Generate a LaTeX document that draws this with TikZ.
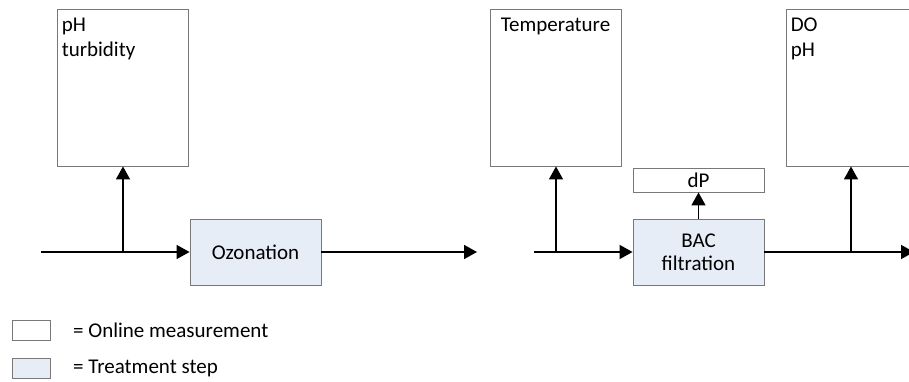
\documentclass[tikz,border=0pt]{standalone}
\usepackage{fontspec}
\setmainfont{Carlito}
\usetikzlibrary{arrows.meta,positioning}
\definecolor{boxgray}{RGB}{120,120,120}
\definecolor{stepfill}{RGB}{230,237,247}
\tikzset{
  measbox/.style={draw=boxgray,line width=0.9pt,fill=white,rectangle,inner sep=0pt},
  stepbox/.style={draw=boxgray,line width=0.9pt,fill=stepfill,rectangle,inner sep=0pt,align=center},
  flow/.style={draw=black,line width=1.6pt,-{Triangle[length=13pt,width=14pt]}},
  txt/.style={inner sep=0pt,align=left,font=\fontsize{21}{25.5}\selectfont},
}
\begin{document}
\begin{tikzpicture}[x=1pt,y=-1pt,font=\fontsize{21}{24}\selectfont]
\useasboundingbox (0,0) rectangle (909,382);
\clip (0,0) rectangle (909,382);
% measurement boxes
\node[measbox,minimum width=131pt,minimum height=157pt] (m1) at (122.5,87.5) {};
\node[measbox,minimum width=131pt,minimum height=157pt] (m2) at (555.5,87.5) {};
\node[measbox,minimum width=160pt,minimum height=157pt] (m3) at (866,87.5) {};
\node[txt,anchor=north west] (t1) at ([xshift=5pt,yshift=-9pt]m1.north west) {pH\\turbidity};
\node[txt,anchor=north] (t2) at ([yshift=-9pt]m2.north) {Temperature};
\node[txt,anchor=north west] (t3) at ([xshift=5pt,yshift=-9pt]m3.north west) {DO\\pH};
\node[measbox,minimum width=131pt,minimum height=24pt] (dp) at (698.5,180) {dP};
% treatment steps
\node[stepbox,minimum width=131pt,minimum height=66pt] (oz) at (255.5,252) {Ozonation};
\node[stepbox,minimum width=131pt,minimum height=66pt] (bac) at (698.5,252) {BAC\\[-1pt]filtration};
% flow coordinates
\coordinate (in0) at (41,252);
\coordinate (j1) at (123,252);
\coordinate (out1) at (477,252);
\coordinate (in2) at (534,252);
\coordinate (j2) at (556,252);
\coordinate (j3) at (851,252);
\coordinate (out3) at (914,252);
% connectors
\draw[flow] (in0) -- (oz.west);
\draw[flow] (j1) -- (j1 |- m1.south);
\draw[flow] (oz.east) -- (out1);
\draw[flow] (in2) -- (bac.west);
\draw[flow] (j2) -- (j2 |- m2.south);
\draw[flow] (bac.north) -- (dp.south);
\draw[flow] (bac.east) -- (out3);
\draw[flow] (j3) -- (j3 |- m3.south);
% legend
\node[measbox,minimum width=38pt,minimum height=20pt] (lg1) at (31,330) {};
\node[stepbox,minimum width=38pt,minimum height=20pt] (lg2) at (31,368) {};
\node[txt,anchor=west] (lt1) at (73,330) {= Online measurement};
\node[txt,anchor=west] (lt2) at (73,368) {= Treatment step};
\end{tikzpicture}
\end{document}
